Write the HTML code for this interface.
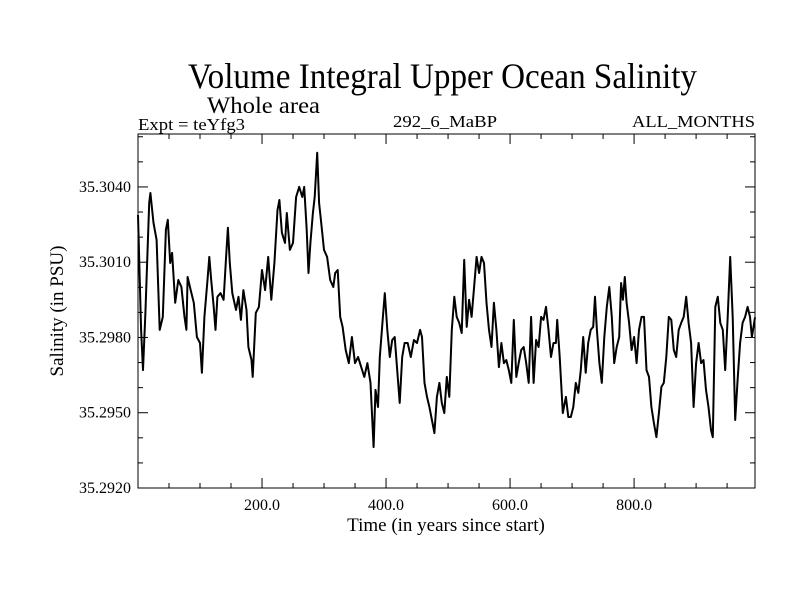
<!DOCTYPE html>
<html><head><meta charset="utf-8"><style>
html,body{margin:0;padding:0;background:#fff;}
svg{display:block;font-family:"Liberation Serif",serif;}
</style></head><body>
<svg id="chart" width="800" height="600" xmlns="http://www.w3.org/2000/svg">
<rect width="800" height="600" fill="#fff"/>
<text x="188" y="88" font-size="36" textLength="509" lengthAdjust="spacingAndGlyphs">Volume Integral Upper Ocean Salinity</text>
<text x="207" y="113" font-size="23" textLength="113" lengthAdjust="spacingAndGlyphs">Whole area</text>
<text x="138" y="130" font-size="17" textLength="107" lengthAdjust="spacingAndGlyphs">Expt = teYfg3</text>
<text x="393" y="127" font-size="17" textLength="104" lengthAdjust="spacingAndGlyphs">292_6_MaBP</text>
<text x="632" y="127" font-size="17" textLength="123" lengthAdjust="spacingAndGlyphs">ALL_MONTHS</text>
<text transform="translate(63,311) rotate(-90)" text-anchor="middle" font-size="19">Salinity (in PSU)</text>
<text x="446" y="531" text-anchor="middle" font-size="19">Time (in years since start)</text>
<g id="axes"></g>
<path id="line" fill="none" stroke="#000" stroke-width="2" stroke-linejoin="round"/>
<rect x="138" y="134" width="617" height="354" fill="none" stroke="#000" stroke-width="1"/>
</svg>
<script>
const years=[0,5,8,12,18,20,25,30,35,40,45,48,52,55,60,65,70,75,78,80,85,90,95,100,103,107,112,115,118,122,125,128,133,138,142,145,148,152,158,162,166,170,175,178,183,185,190,195,200,205,210,215,220,225,228,232,237,240,245,250,255,260,265,268,272,275,278,282,285,289,292,295,300,305,310,315,318,322,326,330,335,340,345,350,355,360,365,370,375,380,383,387,390,395,398,402,406,410,414,418,422,426,430,435,440,445,450,455,458,462,466,470,475,478,482,486,490,494,498,502,506,510,514,518,522,526,530,534,538,542,546,550,554,558,562,566,570,574,578,582,586,590,594,598,602,606,610,614,618,622,626,630,634,638,642,646,650,654,658,662,666,670,674,676,680,685,690,694,698,702,706,710,714,718,722,726,730,734,737,740,744,748,752,756,760,764,768,772,776,779,782,785,788,792,796,800,804,808,812,816,820,824,828,832,836,840,844,848,852,856,860,864,868,872,876,880,884,888,892,896,900,904,908,912,916,920,924,927,931,935,939,943,947,951,955,959,963,967,971,975,979,983,987,990,995];
const salinity=[35.30288,35.29830,35.29670,35.29898,35.30336,35.30376,35.30257,35.30189,35.29830,35.29882,35.30229,35.30269,35.30097,35.30137,35.29938,35.30029,35.30001,35.29882,35.29830,35.30041,35.29989,35.29938,35.29802,35.29778,35.29659,35.29882,35.30029,35.30121,35.30029,35.29922,35.29830,35.29962,35.29977,35.29950,35.30121,35.30237,35.30097,35.29977,35.29910,35.29962,35.29870,35.29989,35.29910,35.29762,35.29710,35.29643,35.29898,35.29922,35.30069,35.29989,35.30121,35.29950,35.30097,35.30308,35.30348,35.30217,35.30177,35.30296,35.30149,35.30177,35.30360,35.30400,35.30360,35.30400,35.30229,35.30057,35.30177,35.30296,35.30360,35.30536,35.30336,35.30269,35.30149,35.30121,35.30029,35.30001,35.30057,35.30069,35.29882,35.29842,35.29750,35.29698,35.29802,35.29698,35.29722,35.29682,35.29643,35.29698,35.29619,35.29363,35.29591,35.29523,35.29722,35.29882,35.29977,35.29830,35.29722,35.29790,35.29802,35.29670,35.29539,35.29722,35.29778,35.29778,35.29722,35.29790,35.29778,35.29830,35.29802,35.29619,35.29563,35.29523,35.29459,35.29419,35.29563,35.29619,35.29539,35.29499,35.29643,35.29563,35.29830,35.29962,35.29882,35.29858,35.29818,35.30109,35.29842,35.29950,35.29882,35.30001,35.30121,35.30057,35.30121,35.30097,35.29938,35.29830,35.29762,35.29938,35.29830,35.29682,35.29778,35.29698,35.29710,35.29670,35.29619,35.29870,35.29643,35.29698,35.29750,35.29762,35.29698,35.29619,35.29882,35.29619,35.29790,35.29762,35.29882,35.29870,35.29922,35.29830,35.29722,35.29778,35.29778,35.29870,35.29722,35.29499,35.29563,35.29483,35.29483,35.29523,35.29619,35.29579,35.29670,35.29802,35.29659,35.29778,35.29830,35.29842,35.29962,35.29830,35.29698,35.29619,35.29802,35.29922,35.30001,35.29882,35.29698,35.29762,35.29802,35.30017,35.29950,35.30041,35.29938,35.29858,35.29750,35.29802,35.29698,35.29830,35.29882,35.29882,35.29670,35.29643,35.29523,35.29459,35.29403,35.29499,35.29603,35.29619,35.29722,35.29882,35.29870,35.29750,35.29722,35.29830,35.29858,35.29882,35.29962,35.29858,35.29778,35.29523,35.29698,35.29778,35.29698,35.29710,35.29591,35.29523,35.29431,35.29403,35.29922,35.29962,35.29858,35.29830,35.29670,35.29882,35.30121,35.29882,35.29471,35.29631,35.29778,35.29858,35.29882,35.29922,35.29882,35.29802,35.29880];
const xTickValues=[200,400,600,800];
const xTickLabels=["200.0","400.0","600.0","800.0"];
const yTickValues=[35.2920,35.2950,35.2980,35.3010,35.3040];
const yTickLabels=["35.2920","35.2950","35.2980","35.3010","35.3040"];

const X0=138,X1=755,Y0=488,Y1=134;
const xMin=0,xMax=995,yMin=35.2920,yMax=35.30611;
function xs(v){return X0+(v-xMin)/(xMax-xMin)*(X1-X0);}
function ys(v){return Y0-(v-yMin)/(yMax-yMin)*(Y0-Y1);}
const NS="http://www.w3.org/2000/svg";
const axes=document.getElementById('axes');
function ln(x1,y1,x2,y2,name){const l=document.createElementNS(NS,'line');
l.setAttribute('x1',x1);l.setAttribute('y1',y1);l.setAttribute('x2',x2);l.setAttribute('y2',y2);
l.setAttribute('stroke','#000');l.setAttribute('stroke-width','1');


axes.appendChild(l);}
function tx(x,y,s,anchor,name){const t=document.createElementNS(NS,'text');
t.setAttribute('x',x);t.setAttribute('y',y);t.setAttribute('font-size','16');t.setAttribute('text-anchor',anchor);t.textContent=s;


axes.appendChild(t);}
for(let v=50;v<xMax;v+=50){const x=xs(v);const major=v%200===0;const L=major?10:5;
ln(x,Y0,x,Y0-L,'x-tick');ln(x,Y1,x,Y1+L,'x-tick-top');}
for(let v=35.2920;v<yMax;v+=0.001){const y=ys(v);const major=Math.round(v*10000)%30===0;const L=major?10:5;
ln(X0,y,X0+L,y,'y-tick');ln(X1,y,X1-L,y,'y-tick-right');}
xTickValues.forEach((v,i)=>tx(xs(v),510,xTickLabels[i],'middle','x-tick-label'));
yTickValues.forEach((v,i)=>tx(X0-7,ys(v)+5,yTickLabels[i],'end','y-tick-label'));
let d='';years.forEach((yr,i)=>{d+=(i?'L':'M')+xs(yr).toFixed(1)+','+ys(salinity[i]).toFixed(1);});
document.getElementById('line').setAttribute('d',d);
</script>
</body></html>
